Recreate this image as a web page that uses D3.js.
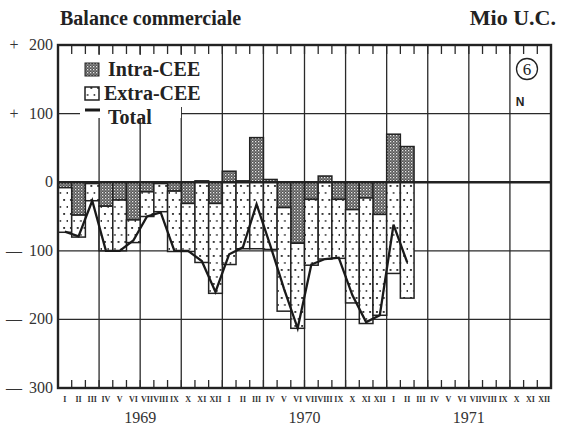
<!DOCTYPE html>
<html>
<head>
<meta charset="utf-8">
<script src="https://cdn.jsdelivr.net/npm/d3@7"></script>
<style>
  body { margin: 0; background: #fff; }
  svg { display: block; font-family: 'Liberation Serif', 'DejaVu Serif', serif; }
</style>
</head>
<body>
<svg id="chart"></svg>
<script>
// months of the x axis
const years = ['1969', '1970', '1971'];
const romans = ['I', 'II', 'III', 'IV', 'V', 'VI', 'VII', 'VIII', 'IX', 'X', 'XI', 'XII'];

// balance, Mio U.C., Jan 1969 .. Feb 1971
const intraCEE = [-8, -48, -2, -35, -26, -55, -14, -2, -13, -31, 2, -31,
                  16, 2, 65, 4, -37, -89, -25, 9, -25, -40, -23, -47,
                  70, 52];
const extraCEE = [-65, -32, -25, -65, -74, -33, -36, -41, -88, -70, -117, -131,
                  -120, -97, -97, -98, -151, -124, -96, -112, -86, -136, -183, -147,
                  -133, -169];
const total = [-72, -79, -27, -100, -100, -85, -50, -44, -100, -100, -115, -160,
               -105, -95, -32, -92, -155, -213, -120, -112, -110, -165, -204, -194,
               -62, -117];

const yTicks = [200, 100, 0, -100, -200, -300];
const yTickSigns = ['+', '+', '', '—', '—', '—'];
const yTickLabels = ['200', '100', '0', '100', '200', '300'];

draw_chart();

function draw_chart() {
    const svg = d3.select('#chart')
        .attr('width', 564)
        .attr('height', 429);

    const left = 58, right = 551, top = 45, bottom = 388;

    const months = years.flatMap(yr => romans.map(r => yr + '-' + r));
    const rows = intraCEE.map((v, i) => ({month: months[i], intra: v, extra: extraCEE[i], total: total[i]}));

    const x = d3.scaleBand()
        .domain(months)
        .range([left, right])
        .padding(0);

    const y = d3.scaleLinear()
        .domain([-300, 200])
        .range([bottom, top]);

    /* fill patterns */
    const defs = svg.append('defs');
    const dark = defs.append('pattern')
        .attr('id', 'intra')
        .attr('patternUnits', 'userSpaceOnUse')
        .attr('width', 3).attr('height', 3);
    dark.append('rect').attr('width', 3).attr('height', 3).attr('fill', '#555');
    dark.append('rect').attr('x', 0).attr('y', 0).attr('width', 1.3).attr('height', 1.3).attr('fill', '#e8e8e8');
    dark.append('rect').attr('x', 1.5).attr('y', 1.5).attr('width', 1.1).attr('height', 1.1).attr('fill', '#bbb');

    const light = defs.append('pattern')
        .attr('id', 'extra')
        .attr('patternUnits', 'userSpaceOnUse')
        .attr('width', 6.8).attr('height', 14);
    light.append('rect').attr('width', 6.8).attr('height', 14).attr('fill', '#fff');
    light.append('rect').attr('x', 2).attr('y', 3).attr('width', 1.9).attr('height', 1.9).attr('fill', '#333');
    light.append('rect').attr('x', 5.4).attr('y', 10).attr('width', 1.9).attr('height', 1.9).attr('fill', '#333');

    /* title */
    svg.append('text')
        .attr('x', 60).attr('y', 25)
        .attr('font-size', 20).attr('font-weight', 'bold')
        .attr('fill', '#222')
        .text('Balance  commerciale');
    svg.append('text')
        .attr('x', 556).attr('y', 25)
        .attr('text-anchor', 'end')
        .attr('font-size', 22).attr('font-weight', 'bold')
        .attr('fill', '#222')
        .text('Mio U.C.');

    /* grid */
    const grid = svg.append('g').attr('stroke', '#2a2a2a').attr('stroke-width', 1.3);
    grid.selectAll('.hgrid')
        .data([100, -100, -200])
        .enter().append('line')
        .attr('x1', left).attr('x2', right)
        .attr('y1', d => y(d)).attr('y2', d => y(d));

    const quarters = months.filter((m, i) => i > 0 && i % 3 === 0);
    grid.selectAll('.vgrid')
        .data(quarters)
        .enter().append('line')
        .attr('x1', d => x(d)).attr('x2', d => x(d))
        .attr('y1', top).attr('y2', bottom);

    const bounds = months.filter((m, i) => i > 0);
    grid.selectAll('.ttop')
        .data(bounds)
        .enter().append('line')
        .attr('x1', d => x(d)).attr('x2', d => x(d))
        .attr('y1', top).attr('y2', top + 9);
    grid.selectAll('.tbot')
        .data(bounds)
        .enter().append('line')
        .attr('x1', d => x(d)).attr('x2', d => x(d))
        .attr('y1', bottom).attr('y2', bottom - 8);

    /* legend background hides the grid */
    svg.append('rect')
        .attr('x', 80).attr('y', 55)
        .attr('width', 130).attr('height', 52)
        .attr('fill', '#fff');
    svg.append('rect')
        .attr('x', 80).attr('y', 106)
        .attr('width', 101).attr('height', 12)
        .attr('fill', '#fff');

    /* stacked bars */
    const series = d3.stack()
        .keys(['intra', 'extra'])
        .offset(d3.stackOffsetDiverging)(rows);

    svg.append('g')
        .selectAll('g')
        .data(series)
        .enter().append('g')
        .attr('fill', d => 'url(#' + d.key + ')')
        .attr('stroke', '#222')
        .attr('stroke-width', 1.5)
        .selectAll('rect')
        .data(d => d)
        .enter().append('rect')
        .attr('x', d => x(d.data.month))
        .attr('width', x.bandwidth())
        .attr('y', d => y(Math.max(d[0], d[1])))
        .attr('height', d => Math.abs(y(d[0]) - y(d[1])));

    /* zero line */
    svg.append('line')
        .attr('x1', left).attr('x2', right)
        .attr('y1', y(0)).attr('y2', y(0))
        .attr('stroke', '#222').attr('stroke-width', 2.4);

    /* total line */
    const line = d3.line()
        .x(d => x(d.month) + x.bandwidth() / 2)
        .y(d => y(d.total));

    svg.append('path')
        .datum(rows)
        .attr('d', line)
        .attr('fill', 'none')
        .attr('stroke', '#1a1a1a')
        .attr('stroke-width', 2.3)
        .attr('stroke-linejoin', 'miter');

    /* frame */
    svg.append('rect')
        .attr('x', left).attr('y', top)
        .attr('width', right - left).attr('height', bottom - top)
        .attr('fill', 'none')
        .attr('stroke', '#222').attr('stroke-width', 2.4);

    /* y labels */
    const yl = svg.append('g')
        .attr('font-size', 16)
        .attr('fill', '#333');
    yl.selectAll('.num')
        .data(yTicks)
        .enter().append('text')
        .attr('x', 53)
        .attr('y', d => y(d) + 5)
        .attr('text-anchor', 'end')
        .text((d, i) => yTickLabels[i]);
    yl.selectAll('.sign')
        .data(yTicks)
        .enter().append('text')
        .attr('x', 14)
        .attr('y', d => y(d) + 5)
        .attr('text-anchor', 'middle')
        .text((d, i) => yTickSigns[i]);

    /* month labels */
    const xAxis = svg.append('g')
        .attr('transform', 'translate(0,' + (bottom + 5) + ')')
        .call(d3.axisBottom(x).tickSize(0).tickFormat(d => d.split('-')[1]));
    xAxis.select('.domain').remove();
    xAxis.selectAll('text')
        .attr('font-family', "'Liberation Serif', serif")
        .attr('font-size', 8)
        .attr('font-weight', 'bold')
        .attr('fill', '#333');

    /* year labels */
    svg.append('g')
        .selectAll('text')
        .data(years)
        .enter().append('text')
        .attr('x', d => (x(d + '-VI') + x(d + '-VII') + x.bandwidth()) / 2)
        .attr('y', 423)
        .attr('text-anchor', 'middle')
        .attr('font-size', 16)
        .attr('fill', '#333')
        .text(d => d);

    /* legend */
    const lg = svg.append('g');
    lg.append('rect').attr('x', 85).attr('y', 63).attr('width', 14).attr('height', 13)
        .attr('fill', 'url(#intra)').attr('stroke', '#222').attr('stroke-width', 1);
    lg.append('rect').attr('x', 85).attr('y', 87).attr('width', 14).attr('height', 13)
        .attr('fill', 'url(#extra)').attr('stroke', '#222').attr('stroke-width', 1.5);
    lg.append('line').attr('x1', 85).attr('x2', 100).attr('y1', 110).attr('y2', 110)
        .attr('stroke', '#1a1a1a').attr('stroke-width', 3);
    lg.selectAll('text')
        .data(['Intra-CEE', 'Extra-CEE', 'Total'])
        .enter().append('text')
        .attr('x', (d, i) => i === 1 ? 104 : 108)
        .attr('y', (d, i) => [76, 100, 124][i])
        .attr('font-size', 20)
        .attr('font-weight', 'bold')
        .attr('fill', '#222')
        .text(d => d);

    /* panel number */
    svg.append('circle')
        .attr('cx', 527).attr('cy', 69).attr('r', 10.5)
        .attr('fill', 'none').attr('stroke', '#222').attr('stroke-width', 1.3);
    svg.append('text')
        .attr('x', 527).attr('y', 75)
        .attr('text-anchor', 'middle')
        .attr('font-size', 17)
        .attr('fill', '#222')
        .text('6');
    svg.append('text')
        .attr('x', 520).attr('y', 106)
        .attr('text-anchor', 'middle')
        .attr('font-family', "'Liberation Sans', sans-serif")
        .attr('font-size', 12)
        .attr('font-weight', 'bold')
        .attr('fill', '#222')
        .text('N');
}
</script>
</body>
</html>
